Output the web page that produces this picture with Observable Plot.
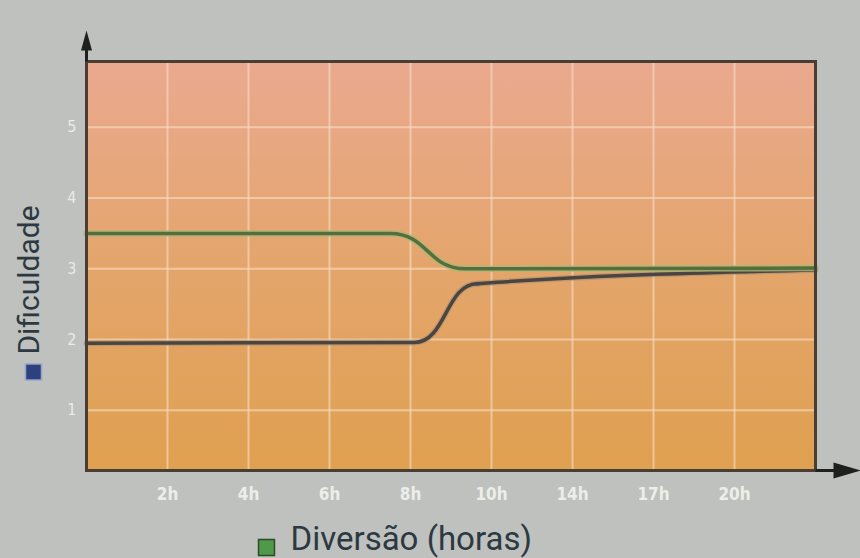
<!DOCTYPE html>
<html><head><meta charset="utf-8">
<script src="https://cdn.jsdelivr.net/npm/d3@7"></script>
<script src="https://cdn.jsdelivr.net/npm/@observablehq/plot@0.6"></script>
<style>
html,body{margin:0;padding:0;background:#bec1bd;}
#chart{width:860px;height:558px;overflow:hidden;}
</style></head><body><div id="chart"></div>
<script>
// Axis slots (hours) — the axis is evenly spaced per tick, not linear in hours
const hourSlots = [0, 2, 4, 6, 8, 10, 14, 17, 20, 23];
const xTicks = [2, 4, 6, 8, 10, 14, 17, 20];
const xTickLabels = ["2h", "4h", "6h", "8h", "10h", "14h", "17h", "20h"];
const yTicks = [1, 2, 3, 4, 5];
const yLabel = "Dificuldade";
const xLabel = "Diversão (horas)";

// Green series
const greenHours  = [0, 7.5, 9.35, 23];
const greenValues = [3.5, 3.5, 3.0, 3.01];
// Dark grey series: S-shaped rise, then a slow straight climb
const greyRiseHours  = [0, 8.1, 9.65];
const greyRiseValues = [1.95, 1.96, 2.79];
const greyTailHours  = [9.65, 10.3, 23];
const greyTailValues = [2.79, 2.81, 2.985];

const green = greenHours.map((h, i) => ({h, v: greenValues[i]}));
const greyRise = greyRiseHours.map((h, i) => ({h, v: greyRiseValues[i]}));
const greyTail = greyTailHours.map((h, i) => ({h, v: greyTailValues[i]}));

const W = 860, H = 558, mL = 86, mR = 45, mT = 61, mB = 88;
const step = (W - mL - mR) / (hourSlots.length - 1);

const upArrow = {draw(ctx) {
  ctx.moveTo(0, -31); ctx.lineTo(5.5, -11); ctx.lineTo(1.5, -11); ctx.lineTo(1.5, 0);
  ctx.lineTo(-1.5, 0); ctx.lineTo(-1.5, -11); ctx.lineTo(-5.5, -11); ctx.closePath();
}};
const rightArrow = {draw(ctx) {
  ctx.moveTo(45, 0); ctx.lineTo(18, -8); ctx.lineTo(18, -1.5); ctx.lineTo(0, -1.5);
  ctx.lineTo(0, 1.5); ctx.lineTo(18, 1.5); ctx.lineTo(18, 8); ctx.closePath();
}};

const font = "Roboto, 'DejaVu Sans', sans-serif";
const tickFont = "'DejaVu Sans Condensed', 'DejaVu Sans', sans-serif";

const greyHalo = {x: "h", y: "v", stroke: "#9a8a78", strokeOpacity: 0.5, strokeWidth: 6};
const greyMain = {x: "h", y: "v", stroke: "#4b4540", strokeWidth: 3.5};

const plot = Plot.plot({
  width: W, height: H,
  marginLeft: mL, marginRight: mR, marginTop: mT, marginBottom: mB,
  style: {background: "transparent", fontFamily: font, overflow: "visible"},
  x: {type: "linear", domain: hourSlots, range: hourSlots.map((d, i) => mL + i * step), axis: null},
  y: {domain: [0.15, 5.93], axis: null},
  marks: [
    Plot.frame({fill: "url(#plotbg)"}),
    Plot.gridY(yTicks, {stroke: "#f7e0c8", strokeOpacity: 0.6, strokeWidth: 2}),
    Plot.gridX(xTicks, {stroke: "#f7e0c8", strokeOpacity: 0.6, strokeWidth: 2}),
    Plot.line(greyRise, {...greyHalo, curve: "bump-x"}),
    Plot.line(greyTail, {...greyHalo, curve: "monotone-x"}),
    Plot.line(greyRise, {...greyMain, curve: "bump-x"}),
    Plot.line(greyTail, {...greyMain, curve: "monotone-x"}),
    Plot.line(green, {x: "h", y: "v", curve: "bump-x", stroke: "#a8b878", strokeOpacity: 0.8, strokeWidth: 6.5}),
    Plot.line(green, {x: "h", y: "v", curve: "bump-x", stroke: "#566e3c", strokeWidth: 3.5}),
    Plot.frame({stroke: "#4a3d33", strokeWidth: 3}),
    Plot.dot([0], {frameAnchor: "top-left", symbol: upArrow, r: 5, fill: "#1e2020", stroke: "none"}),
    Plot.dot([0], {frameAnchor: "bottom-right", symbol: rightArrow, r: 5, fill: "#1e2020", stroke: "none"}),
    Plot.axisX(xTicks, {tickSize: 0, tickPadding: 17, tickFormat: d => xTickLabels[xTicks.indexOf(d)],
      fontSize: 17, fontWeight: "bold", fill: "#f4f4f0", fillOpacity: 0.9, fontFamily: tickFont, label: null}),
    Plot.axisY(yTicks, {tickSize: 0, tickPadding: 10, tickFormat: d => String(d), fontSize: 16,
      fill: "#f4f4f0", fillOpacity: 0.85, fontFamily: tickFont, label: null}),
    Plot.text([yLabel], {text: d => d, frameAnchor: "left", dx: -57, dy: 14, rotate: -90,
      fontSize: 30, fill: "#2c3942", textAnchor: "middle", lineAnchor: "middle", fontFamily: font}),
    Plot.dot([0], {frameAnchor: "left", dx: -53, dy: 106, symbol: "square", r: 9,
      fill: "#2e4080", stroke: "#95a5c5", strokeWidth: 1.5}),
    Plot.text([xLabel], {text: d => d, frameAnchor: "bottom-left", dx: 204, dy: 69,
      fontSize: 33, fill: "#2c3942", textAnchor: "start", lineAnchor: "middle", fontFamily: font}),
    Plot.dot([0], {frameAnchor: "bottom-left", dx: 180, dy: 77, symbol: "square", r: 9,
      fill: "#4e9a48", stroke: "#2f4a2a", strokeWidth: 1.5})
  ]
});

d3.select(plot).insert("defs", ":first-child").html(
  '<linearGradient id="plotbg" x1="0" y1="0" x2="0" y2="1">' +
  '<stop offset="0" stop-color="#eaa98f"/>' +
  '<stop offset="0.5" stop-color="#e4a56c"/>' +
  '<stop offset="1" stop-color="#dfa050"/></linearGradient>');

document.getElementById("chart").appendChild(plot);
</script>
</body></html>
